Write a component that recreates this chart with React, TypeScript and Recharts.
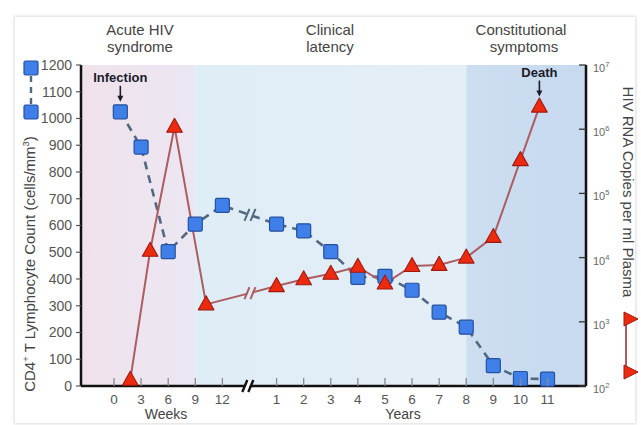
import React from "react";
import { ComposedChart, Line, XAxis, YAxis, ReferenceArea, ReferenceDot } from "recharts";

// tick labels
const weekTicks = [0, 3, 6, 9, 12];
const yearTicks = [1, 2, 3, 4, 5, 6, 7, 8, 9, 10, 11];
const cd4Ticks = [0, 100, 200, 300, 400, 500, 600, 700, 800, 900, 1000, 1100, 1200];
const rnaTicks = [1e2, 1e3, 1e4, 1e5, 1e6, 1e7];

// CD4+ T cells (cells/mm3)
const cd4WeekTimes = [0.7, 3, 6, 9, 12];
const cd4WeekValues = [1025, 893, 502, 605, 675];
const cd4YearTimes = [1, 2, 3, 4, 5, 6, 7, 8, 9, 10, 11];
const cd4YearValues = [605, 580, 502, 406, 410, 358, 276, 220, 76, 28, 26];

// HIV RNA (copies per ml plasma)
const rnaWeekTimes = [1.8, 4, 6.7, 10.2];
const rnaWeekValues = [125, 12800, 1090000, 1870];
const rnaYearTimes = [1, 2, 3, 4, 5, 6, 7, 8, 9, 10, 10.7];
const rnaYearValues = [3600, 4600, 5600, 7200, 3950, 7400, 7700, 10000, 21000, 330000, 2250000];

// weeks and years share one axis, with a break between them
const BREAK = 5;
const weekPos = (w: number) => w / 3;
const yearPos = (y: number) => BREAK + y;
const X_MIN = -1.218;
const X_MAX = 17.42;

const cd4Data = [
  ...cd4WeekTimes.map((w, i) => ({ p: weekPos(w), v: cd4WeekValues[i] })),
  ...cd4YearTimes.map((y, i) => ({ p: yearPos(y), v: cd4YearValues[i] })),
];
const rnaData = [
  ...rnaWeekTimes.map((w, i) => ({ p: weekPos(w), v: rnaWeekValues[i] })),
  ...rnaYearTimes.map((y, i) => ({ p: yearPos(y), v: rnaYearValues[i] })),
];
const xTicks = [...weekTicks.map(weekPos), ...yearTicks.map(yearPos)];

// value of each line where it crosses the axis break
const interp = (data: { p: number; v: number }[], log: boolean) => {
  const i = data.findIndex((d) => d.p > BREAK);
  const a = data[i - 1];
  const b = data[i];
  const t = (BREAK - a.p) / (b.p - a.p);
  if (log) return Math.pow(10, Math.log10(a.v) + t * (Math.log10(b.v) - Math.log10(a.v)));
  return a.v + t * (b.v - a.v);
};

const FONT = "'Liberation Sans', Arial, Helvetica, sans-serif";
const BLUE = "#3f7fe9";
const BLUE_EDGE = "#27509e";
const RED = "#ec2a10";
const RED_EDGE = "#9e1a10";
const RED_LINE = "#ad5c62";
const BLUE_LINE = "#52687f";

const Square = (props: any) => {
  const { cx, cy, index } = props;
  return (
    <rect key={`sq-${index}`} x={cx - 7} y={cy - 7} width={14} height={14} rx={1.5}
      fill={BLUE} stroke={BLUE_EDGE} strokeWidth={1.2} />
  );
};

const Triangle = (props: any) => {
  const { cx, cy, index } = props;
  return (
    <polygon key={`tr-${index}`}
      points={`${cx},${cy - 8.5} ${cx - 7.8},${cy + 5.5} ${cx + 7.8},${cy + 5.5}`}
      fill={RED} stroke={RED_EDGE} strokeWidth={1.1} strokeLinejoin="round" />
  );
};

const BreakMark = ({ cx, cy, color, bg, w = 2 }: any) => (
  <g>
    <polygon points={`${cx - 4},${cy + 6} ${cx + 1},${cy - 6} ${cx + 5},${cy - 6} ${cx},${cy + 6}`} fill={bg} />
    <line x1={cx - 5} y1={cy + 6} x2={cx} y2={cy - 6} stroke={color} strokeWidth={w} />
    <line x1={cx + 1} y1={cy + 6} x2={cx + 6} y2={cy - 6} stroke={color} strokeWidth={w} />
  </g>
);

const XTick = (props: any) => {
  const { x, y, payload } = props;
  const p = payload.value;
  const label = p < BREAK ? String(Math.round(p * 3)) : String(Math.round(p - BREAK));
  return (
    <g>
      <line x1={x} x2={x} y1={y - 8} y2={y} stroke="#8a8a8a" strokeWidth={1.3} />
      <text x={x} y={y + 18} textAnchor="middle" fill="#555" fontSize={13.5} fontFamily={FONT}>{label}</text>
    </g>
  );
};

const RnaTick = (props: any) => {
  const { x, y, payload } = props;
  const exp = Math.round(Math.log10(payload.value));
  return (
    <g>
      <line x1={x - 7} x2={x} y1={y} y2={y} stroke="#333" strokeWidth={1.3} />
      <text x={x + 7} y={y + 7} fill="#666" fontSize={11} fontFamily={FONT}>
        10<tspan dy={-5} fontSize={7.5}>{exp}</tspan>
      </text>
    </g>
  );
};

const Annotation = ({ cx, cy, text }: any) => (
  <g>
    <text x={cx} y={cy - 30} textAnchor="middle" fontSize={13} fontWeight="bold" fill="#1b1b2b" fontFamily={FONT}>{text}</text>
    <line x1={cx} x2={cx} y1={cy - 26} y2={cy - 15} stroke="#1b1b2b" strokeWidth={1.6} />
    <polygon points={`${cx - 3},${cy - 16} ${cx + 3},${cy - 16} ${cx},${cy - 10}`} fill="#1b1b2b" />
  </g>
);

export default function App() {
  const cd4Break = interp(cd4Data, false);
  const rnaBreak = interp(rnaData, true);
  const firstCd4 = cd4Data[0];
  const lastRna = rnaData[rnaData.length - 1];

  return (
    <div style={{ position: "absolute", left: 0, top: 0, width: 641, height: 425, background: "#fff", overflow: "hidden", fontFamily: FONT }}>
      <svg width={0} height={0} style={{ position: "absolute" }}>
        <defs>
          <linearGradient id="acute" x1="0" x2="1" y1="0" y2="0">
            <stop offset="0%" stopColor="#f0e2ec" />
            <stop offset="100%" stopColor="#ebe7f2" />
          </linearGradient>
          <linearGradient id="latent" x1="0" x2="1" y1="0" y2="0">
            <stop offset="0%" stopColor="#dfedf6" />
            <stop offset="100%" stopColor="#e4eef6" />
          </linearGradient>
          <linearGradient id="late" x1="0" x2="1" y1="0" y2="0">
            <stop offset="0%" stopColor="#cddef0" />
            <stop offset="100%" stopColor="#c6d9ef" />
          </linearGradient>
        </defs>
      </svg>
      <div style={{ position: "absolute", left: 15, top: 17, width: 620, height: 406, background: "#fff", boxShadow: "0 0 3px 1px rgba(0,0,0,0.14)" }} />
      <div style={{ position: "absolute", left: 0, top: 0 }}>
        <ComposedChart width={641} height={425} margin={{ top: 65, right: 0, bottom: 9, left: 0 }}>
          <XAxis dataKey="p" type="number" domain={[X_MIN, X_MAX]} ticks={xTicks} allowDataOverflow
            height={30} tickSize={0} tickMargin={0} tick={<XTick />} interval={0}
            axisLine={{ stroke: "#111", strokeWidth: 2.5 }} tickLine={false} />
          <YAxis yAxisId="cd4" orientation="left" domain={[0, 1200]} ticks={cd4Ticks} width={81}
            interval={0} tickSize={5} tickMargin={4}
            tick={{ fill: "#555", fontSize: 14, fontFamily: FONT }}
            tickLine={{ stroke: "#555", strokeWidth: 1.2 }}
            axisLine={{ stroke: "#111", strokeWidth: 2.5 }} />
          <YAxis yAxisId="rna" orientation="right" scale="log" type="number" domain={[100, 1e7]} ticks={rnaTicks}
            allowDataOverflow width={55} interval={0} tickSize={0} tickMargin={0} tick={<RnaTick />}
            tickLine={false} axisLine={{ stroke: "#111", strokeWidth: 2.5 }} />

          <ReferenceArea yAxisId="cd4" x1={X_MIN} x2={weekPos(9)} y1={0} y2={1200} fill="url(#acute)" fillOpacity={1} stroke="none" ifOverflow="hidden" />
          <ReferenceArea yAxisId="cd4" x1={weekPos(9)} x2={yearPos(8)} y1={0} y2={1200} fill="url(#latent)" fillOpacity={1} stroke="none" ifOverflow="hidden" />
          <ReferenceArea yAxisId="cd4" x1={yearPos(8)} x2={X_MAX} y1={0} y2={1200} fill="url(#late)" fillOpacity={1} stroke="none" ifOverflow="hidden" />

          <Line yAxisId="cd4" data={cd4Data} dataKey="v" type="linear" stroke={BLUE_LINE} strokeWidth={2.6}
            strokeDasharray="8 6" dot={Square} activeDot={false} isAnimationActive={false} />
          <Line yAxisId="rna" data={rnaData} dataKey="v" type="linear" stroke={RED_LINE} strokeWidth={2}
            dot={Triangle} activeDot={false} isAnimationActive={false} />

          <ReferenceDot yAxisId="cd4" x={BREAK} y={cd4Break} ifOverflow="visible"
            shape={(p: any) => <BreakMark cx={p.cx} cy={p.cy} color={BLUE_LINE} bg="#dfedf6" />} />
          <ReferenceDot yAxisId="rna" x={BREAK} y={rnaBreak} ifOverflow="visible"
            shape={(p: any) => <BreakMark cx={p.cx} cy={p.cy} color={RED_LINE} bg="#dfedf6" />} />
          <ReferenceDot yAxisId="cd4" x={BREAK - 0.08} y={0} ifOverflow="visible"
            shape={(p: any) => <BreakMark cx={p.cx} cy={p.cy} color="#111" bg="#fff" w={2.4} />} />

          <ReferenceDot yAxisId="cd4" x={firstCd4.p} y={firstCd4.v} ifOverflow="visible"
            shape={(p: any) => <Annotation cx={p.cx} cy={p.cy} text="Infection" />} />
          <ReferenceDot yAxisId="rna" x={lastRna.p} y={lastRna.v} ifOverflow="visible"
            shape={(p: any) => <Annotation cx={p.cx} cy={p.cy} text="Death" />} />
        </ComposedChart>
      </div>
      <svg width={641} height={425} style={{ position: "absolute", left: 0, top: 0, pointerEvents: "none" }} fontFamily={FONT}>
        <g fill="#444" fontSize={15} textAnchor="middle">
          <text x={140} y={35}>Acute HIV</text>
          <text x={140} y={52}>syndrome</text>
          <text x={330} y={35}>Clinical</text>
          <text x={330} y={52}>latency</text>
          <text x={521} y={35}>Constitutional</text>
          <text x={524} y={52}>symptoms</text>
        </g>
        <g fill="#444" fontSize={14} textAnchor="middle">
          <text x={166} y={419}>Weeks</text>
          <text x={403} y={419}>Years</text>
        </g>
        <text transform="translate(35,264) rotate(-90)" textAnchor="middle" fontSize={15} fill="#444">
          CD4<tspan dy={-6} fontSize={9.5}>+</tspan><tspan dy={6}> T Lymphocyte Count (cells/mm</tspan><tspan dy={-6} fontSize={9.5}>3</tspan><tspan dy={6}>)</tspan>
        </text>
        <text transform="translate(623,192) rotate(90)" textAnchor="middle" fontSize={15} fill="#444">
          HIV RNA  Copies per ml Plasma
        </text>
        {/* left legend: CD4 */}
        <line x1={31} x2={31} y1={76} y2={104} stroke={BLUE_LINE} strokeWidth={2.4} strokeDasharray="6 5" />
        <rect x={24} y={61} width={14} height={14} rx={1.5} fill={BLUE} stroke={BLUE_EDGE} strokeWidth={1.2} />
        <rect x={24} y={105} width={14} height={14} rx={1.5} fill={BLUE} stroke={BLUE_EDGE} strokeWidth={1.2} />
        {/* right legend: RNA */}
        <line x1={626} x2={626} y1={322} y2={372} stroke={RED_LINE} strokeWidth={2} />
        <polygon points="624,312 638,319 624,326" fill={RED} stroke={RED_EDGE} strokeWidth={1} />
        <polygon points="624,365 638,372 624,379" fill={RED} stroke={RED_EDGE} strokeWidth={1} />
      </svg>
    </div>
  );
}
